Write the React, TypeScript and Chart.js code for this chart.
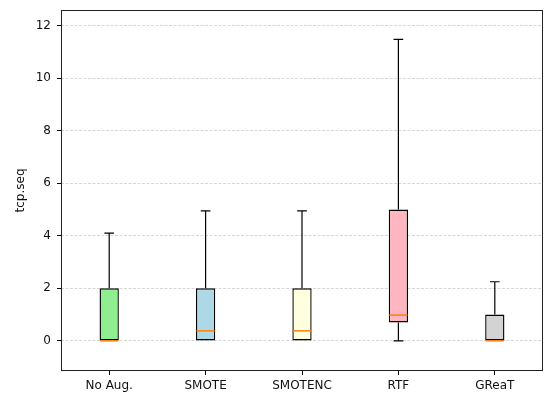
import React, { useEffect, useRef } from "react";
import { Chart, registerables } from "chart.js";

Chart.register(...registerables);

const categories = ["No Aug.", "SMOTE", "SMOTENC", "RTF", "GReaT"];
const whiskerLow = [0, 0, 0, 0, 0];
const q1 = [0, 0, 0, 0.7, 0];
const medians = [0, 0.38, 0.38, 0.98, 0];
const q3 = [2, 2, 2, 5, 1];
const whiskerHigh = [4.1, 4.95, 4.95, 11.48, 2.25];
const boxColors = ["#90EE90", "#ADD8E6", "#FFFFE0", "#FFB6C1", "#D3D3D3"];
const yTickValues = [0, 2, 4, 6, 8, 10, 12];
const yLabel = "tcp.seq";

const FONT = "'DejaVu Sans', sans-serif";

const boxPlugin = {
  id: "boxParts",
  afterDatasetsDraw(chart: any) {
    const ctx = chart.ctx;
    const y = chart.scales.y;
    const meta = chart.getDatasetMeta(0);
    ctx.save();
    meta.data.forEach((bar: any, i: number) => {
      const cx = bar.x;
      const hw = bar.width / 2;
      const cw = hw / 2;
      const pLow = y.getPixelForValue(whiskerLow[i]);
      const pQ1 = y.getPixelForValue(q1[i]);
      const pQ3 = y.getPixelForValue(q3[i]);
      const pHigh = y.getPixelForValue(whiskerHigh[i]);
      const pMed = y.getPixelForValue(medians[i]);
      ctx.strokeStyle = "#000";
      ctx.lineWidth = 1.2;
      ctx.beginPath();
      ctx.moveTo(cx, pQ3);
      ctx.lineTo(cx, pHigh);
      ctx.moveTo(cx - cw, pHigh);
      ctx.lineTo(cx + cw, pHigh);
      if (whiskerLow[i] < q1[i]) {
        ctx.moveTo(cx, pQ1);
        ctx.lineTo(cx, pLow);
        ctx.moveTo(cx - cw, pLow);
        ctx.lineTo(cx + cw, pLow);
      }
      ctx.stroke();
      ctx.strokeStyle = "#ff7f0e";
      ctx.lineWidth = 1.5;
      ctx.beginPath();
      ctx.moveTo(cx - hw + 0.5, pMed);
      ctx.lineTo(cx + hw - 0.5, pMed);
      ctx.stroke();
    });
    ctx.restore();
  },
  afterDraw(chart: any) {
    const { left, right, top, bottom } = chart.chartArea;
    const ctx = chart.ctx;
    ctx.save();
    ctx.strokeStyle = "#222";
    ctx.lineWidth = 1;
    ctx.strokeRect(Math.round(left) + 0.5, Math.round(top) + 0.5, Math.round(right - left) - 1, Math.round(bottom - top) - 1);
    ctx.restore();
  },
};

export default function App() {
  const ref = useRef<HTMLCanvasElement>(null);
  useEffect(() => {
    document.body.style.margin = "0";
    const chart = new Chart(ref.current!, {
      type: "bar",
      data: {
        labels: categories,
        datasets: [
          {
            data: categories.map((_, i) => [q1[i], q3[i]]) as any,
            backgroundColor: boxColors,
            borderColor: "#000",
            borderWidth: 1.4,
            borderSkipped: false,
            categoryPercentage: 1,
            barPercentage: 0.2,
          },
        ],
      },
      options: {
        responsive: false,
        animation: false,
        layout: { padding: { top: 10, right: 1, left: 0, bottom: 0 } },
        plugins: { legend: { display: false }, tooltip: { enabled: false } },
        scales: {
          x: {
            offset: true,
            grid: { offset: false, drawOnChartArea: false, drawTicks: true, tickLength: 4, tickColor: "#000", tickWidth: 1 },
            border: { display: false },
            ticks: { color: "#111", font: { family: FONT, size: 12 }, padding: 4, maxRotation: 0 },
            afterFit: (s: any) => {
              s.height = 22;
              s.paddingLeft = 0;
              s.paddingRight = 0;
            },
          },
          y: {
            min: -1.15,
            max: 12.6,
            afterBuildTicks: (s: any) => {
              s.ticks = yTickValues.map((v) => ({ value: v }));
            },
            grid: {
              color: "rgba(170,170,170,0.8)",
              lineWidth: 0.6,
              tickLength: 4,
              tickColor: "#000",
              tickWidth: 1,
              tickBorderDash: [],
            },
            border: { display: false, dash: [3, 1.5] },
            ticks: { color: "#111", font: { family: FONT, size: 12 }, padding: 6 },
            title: { display: true, text: yLabel, color: "#111", font: { family: FONT, size: 12 }, padding: { top: 14, bottom: 0 } },
            afterFit: (s: any) => {
              s.width = 61;
              s.paddingTop = 0;
              s.paddingBottom = 0;
            },
          },
        },
      },
      plugins: [boxPlugin],
    });
    return () => chart.destroy();
  }, []);
  return (
    <div style={{ width: 544, height: 393 }}>
      <canvas ref={ref} width={544} height={393} style={{ width: 544, height: 393 }} />
    </div>
  );
}
